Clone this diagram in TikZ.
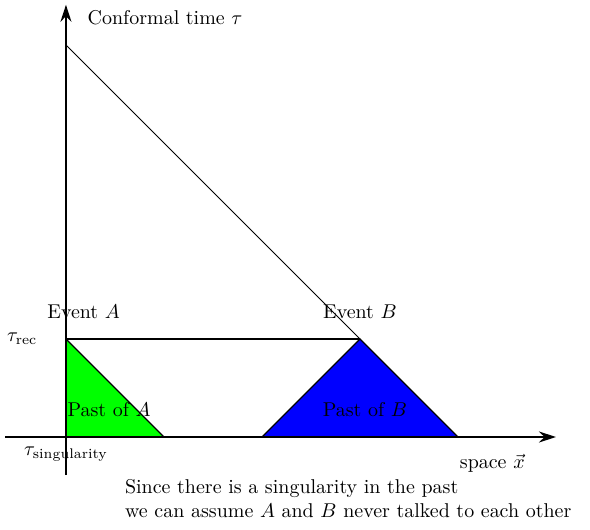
\documentclass[tikz,border=0pt]{standalone}
\usepackage{amsmath,amssymb}
\usetikzlibrary{arrows.meta}

\begin{document}
\begin{tikzpicture}[x=1.725cm,y=1.725cm,>={Stealth[length=8.5pt,width=5.5pt]}]
  \useasboundingbox (-0.673,-0.939) rectangle (5.347,4.459);
  \coordinate (O) at (0,0);
  \coordinate (A) at (0,1);
  \coordinate (B) at (3,1);
  \coordinate (top) at (0,4);
  \coordinate (a1) at (1,0);
  \coordinate (b0) at (2,0);
  \coordinate (b1) at (4,0);
  % past light cones
  \filldraw[fill=green,semithick] (A) -- (O) -- (a1) -- cycle;
  \filldraw[fill=blue,semithick] (b0) -- (B) -- (b1) -- cycle;
  \draw[semithick] (A) -- (B);
  \draw (top) -- (B);
  % axes
  \draw[thick,->] (-0.62,0) -- (5,0) coordinate (xend);
  \draw[thick,->] (0,-0.39) -- (0,4.41) coordinate (tend);
  \node[anchor=west] (tlab) at (0.15,4.28) {Conformal time $\tau$};
  \node (xlab) at (4.35,-0.27) {space $\vec{x}$};
  \node[anchor=east] (trec) at (-0.22,1) {$\tau_{\text{rec}}$};
  \node (tsing) at (0,-0.17) {$\tau_{\text{singularity}}$};
  \node (evA) at (0.18,1.28) {Event $A$};
  \node (evB) at (3,1.28) {Event $B$};
  \node (pastA) at (0.44,0.28) {Past of $A$};
  \node (pastB) at (3.05,0.28) {Past of $B$};
  \node[align=left] (note) at (2.88,-0.63) {Since there is a singularity in the past\\we can assume $A$ and $B$ never talked to each other};
\end{tikzpicture}
\end{document}
